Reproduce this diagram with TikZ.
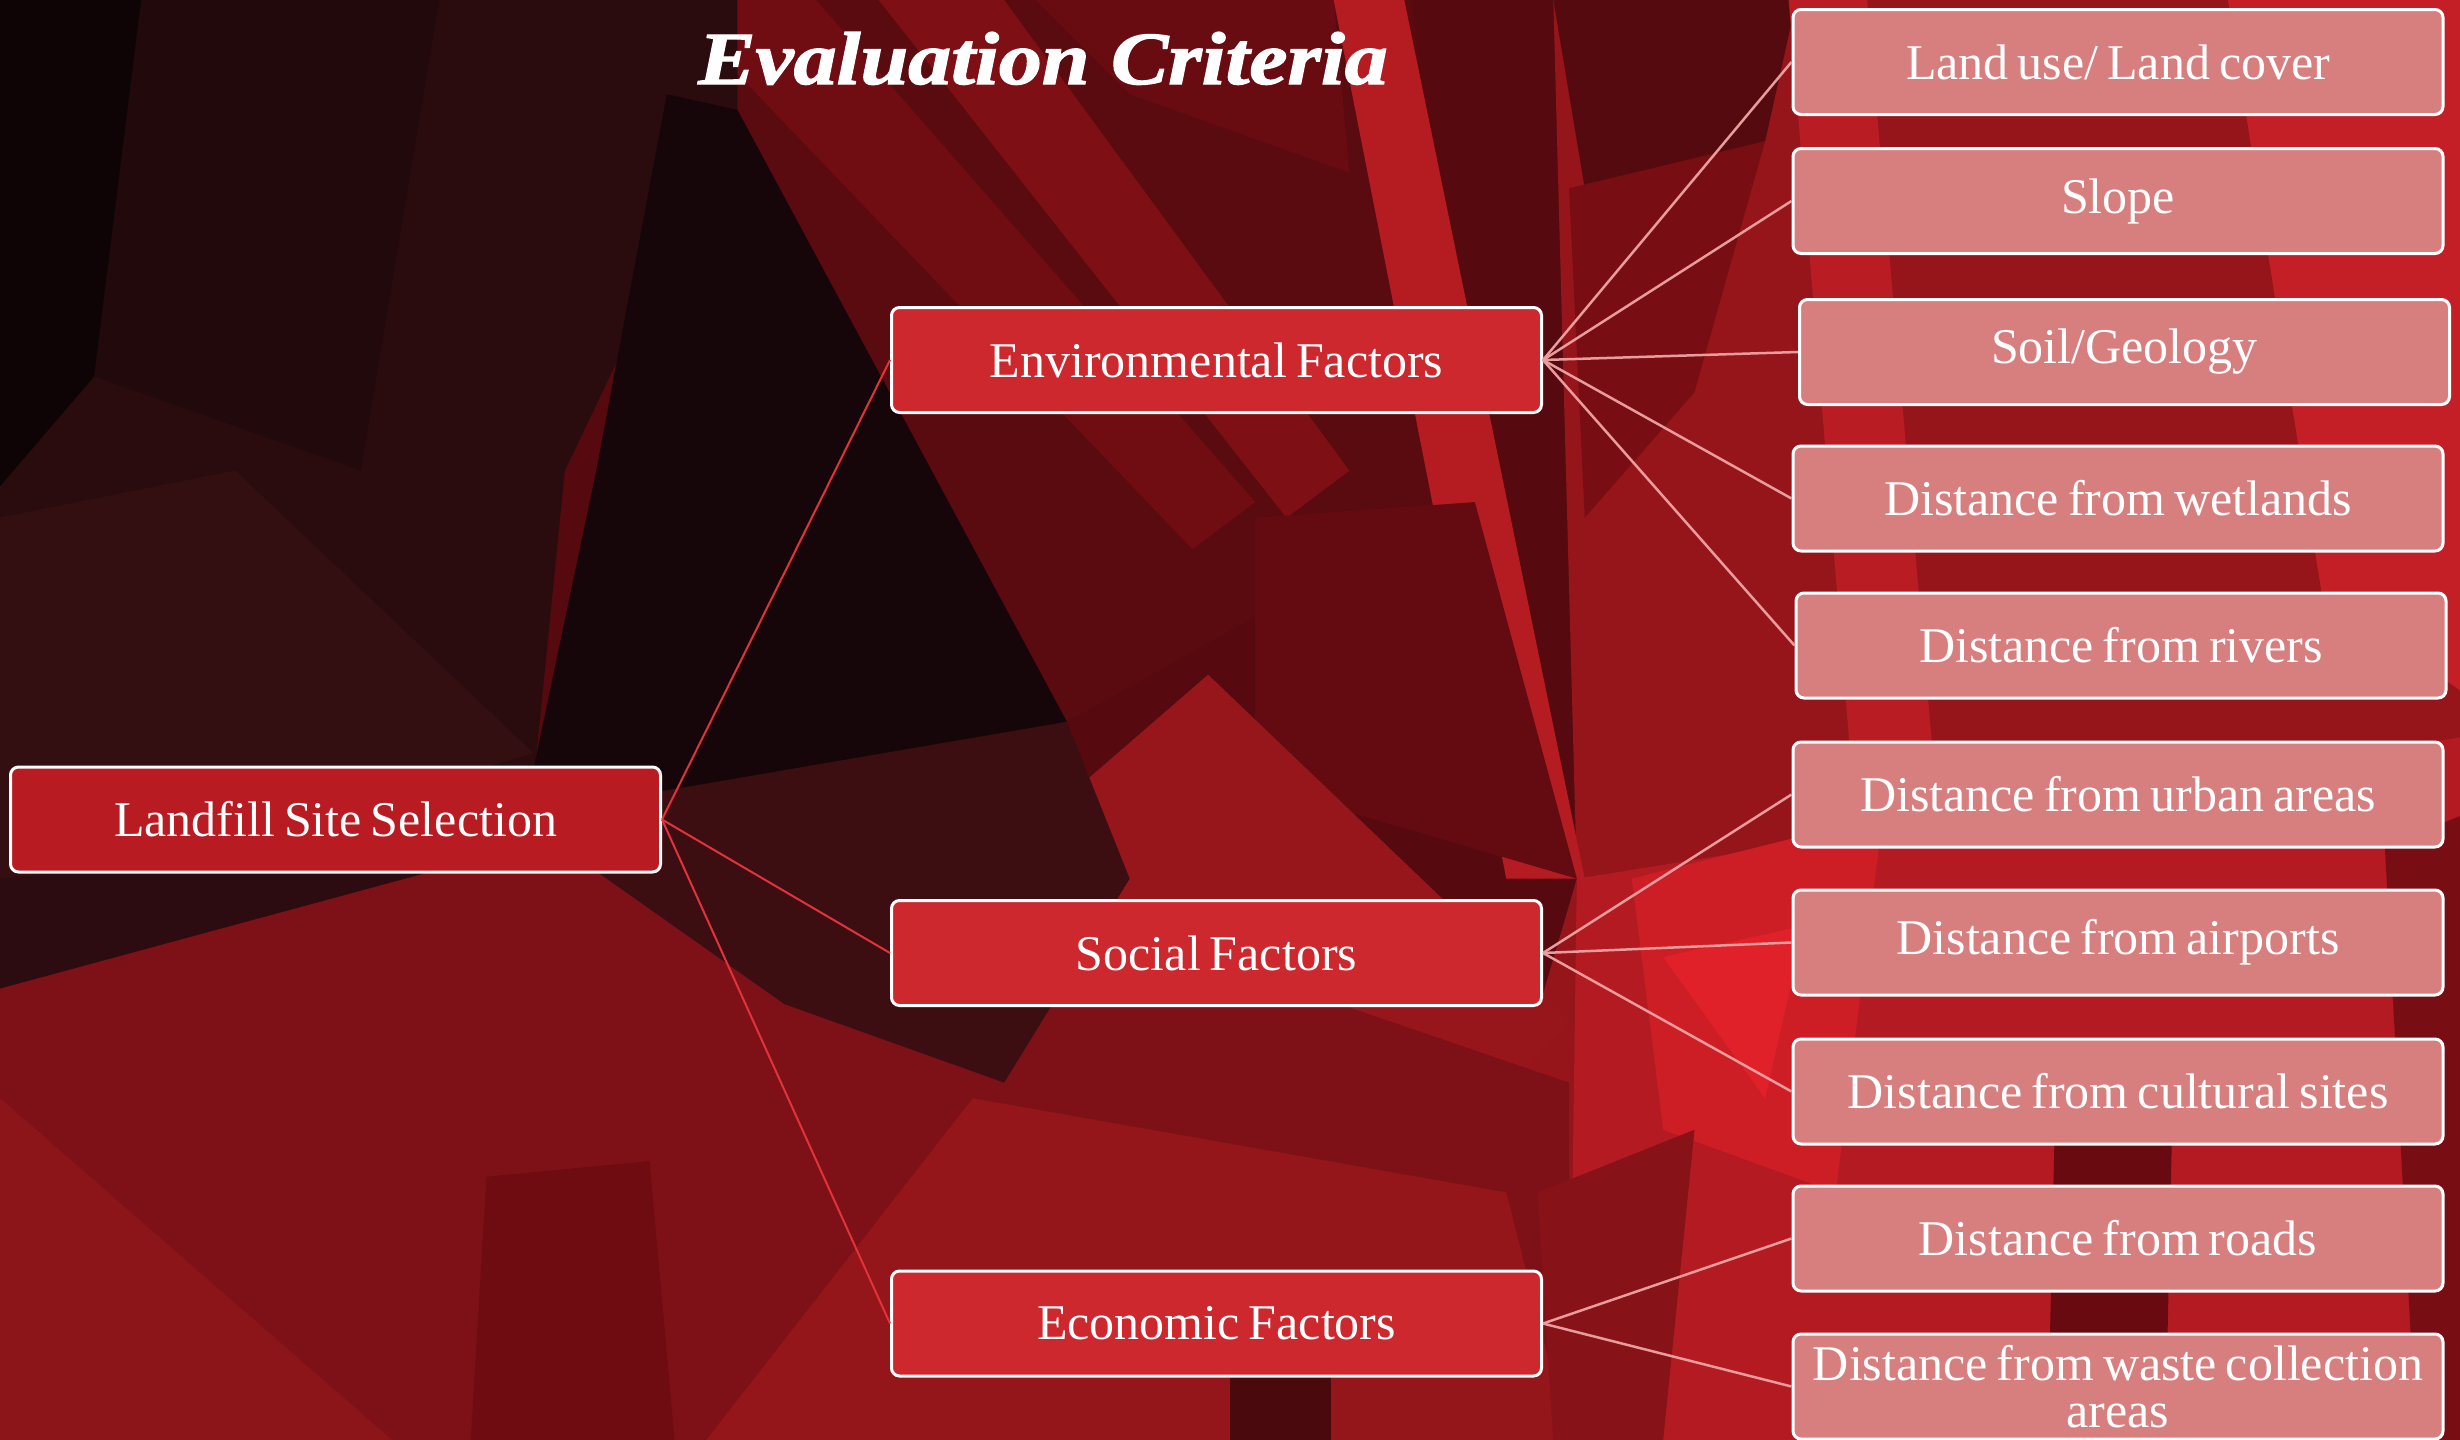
\documentclass[tikz,border=0pt]{standalone}
\usepackage{fontspec}
\setmainfont{Liberation Serif}
\newfontfamily\titlefont{Liberation Serif}[FakeBold=1.6]
\usepackage{graphicx}
\newcommand\boxtextfont{\fontsize{50}{47}\selectfont\spaceskip=9pt\relax\xspaceskip=9pt\relax}
\begin{document}
\begin{tikzpicture}[x=1pt,y=-1pt,
  boxbase/.style={draw=white, line width=3pt, rounded corners=8pt, text=white,
    minimum width=650pt, minimum height=105pt, inner sep=0pt, align=center,
    font=\boxtextfont},
  rootbox/.style={boxbase, fill=rootred},
  factorbox/.style={boxbase, fill=factorred},
  leafbox/.style={boxbase, fill=leafpink},
  rootlink/.style={draw=linkred, line width=2pt},
  leaflink/.style={draw=linkpink, line width=2.5pt},
  facet/.style={fill={rgb,255:#1}}]
\definecolor{rootred}{HTML}{B81B22}
\definecolor{factorred}{HTML}{CC282E}
\definecolor{leafpink}{HTML}{D77F7F}
\definecolor{linkred}{HTML}{E2323A}
\definecolor{linkpink}{HTML}{E89C9C}

% ---------- background: overlapping red facets ----------
\useasboundingbox (0,0) rectangle (2460,1440);
\begin{scope}[scale=1.569]
  \fill[facet={red,86;green,10;blue,15}] (0,0) rectangle (1568,918);
  % right half, bright red
  \fill[facet={red,150;green,21;blue,27}] (990,0) -- (1568,0) -- (1568,918) -- (900,918) -- (1005,560) -- cycle;
  \fill[facet={red,85;green,10;blue,16}] (990,0) -- (1145,0) -- (1125,90) -- (1010,120) -- cycle;
  \fill[facet={red,120;green,14;blue,20}] (1000,120) -- (1125,90) -- (1080,250) -- (1010,330) -- cycle;
  \fill[facet={red,185;green,28;blue,35}] (1140,0) -- (1190,0) -- (1270,918) -- (1215,918) -- cycle;
  \fill[facet={red,180;green,26;blue,34}] (1005,560) -- (1568,470) -- (1568,918) -- (1000,918) -- cycle;
  \fill[facet={red,205;green,30;blue,38}] (1040,560) -- (1200,520) -- (1170,760) -- (1060,720) -- cycle;
  \fill[facet={red,225;green,33;blue,42}] (1060,610) -- (1150,590) -- (1125,700) -- cycle;
  \fill[facet={red,105;green,10;blue,16}] (1310,700) -- (1385,690) -- (1380,918) -- (1305,918) -- cycle;
  \fill[facet={red,196;green,30;blue,38}] (1420,0) -- (1568,0) -- (1568,440) -- (1480,380) -- cycle;
  \fill[facet={red,120;green,13;blue,19}] (1520,540) -- (1568,520) -- (1568,918) -- (1540,918) -- cycle;
  % top middle maroon with slanted strips
  \fill[facet={red,90;green,11;blue,16}] (470,0) -- (900,0) -- (930,320) -- (680,460) -- (470,70) -- cycle;
  \fill[facet={red,112;green,13;blue,19}] (425,0) -- (520,0) -- (800,320) -- (760,350) -- cycle;
  \fill[facet={red,126;green,15;blue,21}] (560,0) -- (640,0) -- (860,300) -- (820,330) -- cycle;
  \fill[facet={red,105;green,12;blue,18}] (660,0) -- (850,0) -- (860,110) -- (720,60) -- cycle;
  % bright slanted stripe
  \fill[facet={red,180;green,28;blue,34}] (850,0) -- (895,0) -- (1010,560) -- (960,560) -- cycle;
  % left: dark field
  \fill[facet={red,42;green,12;blue,15}] (0,0) -- (470,0) -- (470,70) -- (360,300) -- (340,500) -- (0,580) -- cycle;
  \fill[facet={red,34;green,9;blue,12}] (90,0) -- (280,0) -- (230,300) -- (60,240) -- cycle;
  \fill[facet={red,14;green,4;blue,6}] (0,0) -- (90,0) -- (60,240) -- (0,310) -- cycle;
  \fill[facet={red,52;green,15;blue,18}] (0,330) -- (150,300) -- (340,480) -- (0,580) -- cycle;
  % deep centre shadow
  \fill[facet={red,22;green,6;blue,9}] (425,60) -- (470,70) -- (680,460) -- (430,520) -- (340,490) -- (380,300) -- cycle;
  % centre facets
  \fill[facet={red,100;green,11;blue,17}] (800,330) -- (940,320) -- (1005,560) -- (800,500) -- cycle;
  \fill[facet={red,150;green,22;blue,28}] (770,430) -- (1000,650) -- (940,720) -- (620,560) -- cycle;
  % lower half
  \fill[facet={red,126;green,17;blue,23}] (0,630) -- (435,512) -- (620,560) -- (1000,690) -- (1000,918) -- (0,918) -- cycle;
  \fill[facet={red,44;green,12;blue,16}] (0,560) -- (435,512) -- (0,630) -- cycle;
  \fill[facet={red,60;green,14;blue,18}] (330,520) -- (680,460) -- (720,560) -- (640,690) -- (500,640) -- cycle;
  \fill[facet={red,110;green,12;blue,18}] (310,750) -- (414,740) -- (430,918) -- (300,918) -- cycle;
  \fill[facet={red,140;green,21;blue,26}] (0,700) -- (250,918) -- (0,918) -- cycle;
  \fill[facet={red,148;green,21;blue,26}] (620,700) -- (960,760) -- (1000,918) -- (450,918) -- cycle;
  \fill[facet={red,74;green,9;blue,13}] (784,840) -- (848,840) -- (848,918) -- (784,918) -- cycle;
  \fill[facet={red,135;green,18;blue,24}] (980,760) -- (1080,720) -- (1060,918) -- (990,918) -- cycle;
\end{scope}

% ---------- title ----------
\node[anchor=base, text=white, inner sep=0pt] (title) at (1043,84)
  {\resizebox{689pt}{52pt}{\titlefont\bfseries\itshape Evaluation Criteria}};

% ---------- nodes ----------
\node[rootbox] (root) at (335.5,819.5) {Landfill Site Selection};

\node[factorbox] (env) at (1216.5,360) {Environmental Factors};
\node[factorbox] (soc) at (1216.5,953) {Social Factors};
\node[factorbox] (eco) at (1216.5,1323.5) {Economic Factors};

\node[leafbox] (landuse)  at (2118,62)    {Land use/ Land cover};
\node[leafbox] (slope)    at (2118,201)   {Slope};
\node[leafbox] (soil)     at (2124.5,352) {Soil/Geology};
\node[leafbox] (wetlands) at (2118,498.5) {Distance from wetlands};
\node[leafbox] (rivers)   at (2121,645.5) {Distance from rivers};
\node[leafbox] (urban)    at (2118,794.5) {Distance from urban areas};
\node[leafbox] (airports) at (2118,942.5) {Distance from airports};
\node[leafbox] (cultural) at (2118,1091.5){Distance from cultural sites};
\node[leafbox] (roads)    at (2118,1238.5){Distance from roads};
\node[leafbox] (waste)    at (2118,1386.5){Distance from waste collection\\areas};

% ---------- connectors ----------
\foreach \f in {env,soc,eco}
  \path[rootlink] (root.east) -- (\f.west);
\foreach \l in {landuse,slope,soil,wetlands,rivers}
  \path[leaflink] (env.east) -- (\l.west);
\foreach \l in {urban,airports,cultural}
  \path[leaflink] (soc.east) -- (\l.west);
\foreach \l in {roads,waste}
  \path[leaflink] (eco.east) -- (\l.west);
\end{tikzpicture}
\end{document}
